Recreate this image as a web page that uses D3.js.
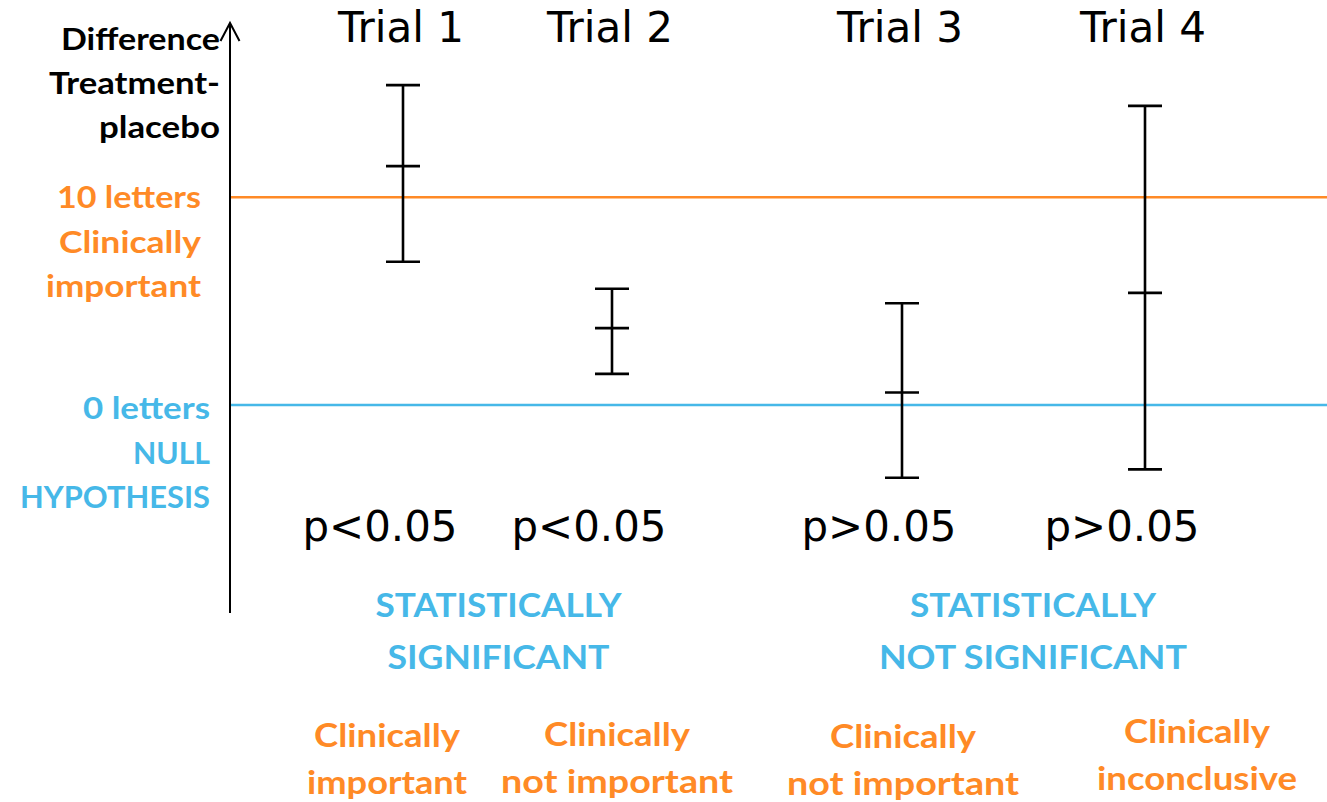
<!DOCTYPE html>
<html>
<head>
<meta charset="utf-8">
<script src="https://cdn.jsdelivr.net/npm/d3@7"></script>
<style>
  html, body { margin: 0; padding: 0; background: #fff; }
  svg { display: block; }
</style>
</head>
<body>
<svg id="chart" width="1327" height="802"></svg>
<script>
// ---- data ----
const trials = ["Trial 1", "Trial 2", "Trial 3", "Trial 4"];
const estimate = [11.5, 3.7, 0.6, 5.4];
const lower = [6.9, 1.5, -3.5, -3.1];
const upper = [15.4, 5.6, 4.9, 14.4];
const pValues = ["p<0.05", "p<0.05", "p>0.05", "p>0.05"];
const clinicalLabels = [
  ["Clinically", "important"],
  ["Clinically", "not important"],
  ["Clinically", "not important"],
  ["Clinically", "inconclusive"]
];
const groupNames = ["significant", "notSignificant"];
const groupLabels = [["STATISTICALLY", "SIGNIFICANT"], ["STATISTICALLY", "NOT SIGNIFICANT"]];
const refValues = [10, 0];
const refLabels = [["10 letters", "Clinically", "important"], ["0 letters", "NULL", "HYPOTHESIS"]];
const axisTitle = ["Difference", "Treatment-", "placebo"];

// ---- style / layout ----
const ORANGE = "#FF8A26";
const BLUE = "#46B8E8";
const BOLD = "Lato, 'Open Sans', sans-serif";
const PLAIN = "'DejaVu Sans', Verdana, sans-serif";

// rendered widths of labels (layout, px)
const labelWidth = {
  "Difference": 159, "Treatment-": 171, "placebo": 121,
  "10 letters": 144, "Clinically": 142, "important": 155,
  "0 letters": 127, "NULL": 77, "HYPOTHESIS": 190,
  "STATISTICALLY": 246, "SIGNIFICANT": 222, "NOT SIGNIFICANT": 308,
  "not important": 232, "inconclusive": 200
};
const bottomClinWidth = { "Clinically": 146, "important": 160 };

const svg = d3.select("#chart");

const y = d3.scaleLinear().domain([0, 10]).range([405, 197.3]);
const x = d3.scaleOrdinal().domain(trials).range([403, 612, 902, 1145]);
const xClin = d3.scaleOrdinal().domain(trials).range([387, 617, 903, 1197]);
const yClin = d3.scaleOrdinal().domain(trials).range([747, 746, 748, 743]);
const xGroup = d3.scaleOrdinal().domain(groupNames).range([498.5, 1033]);
const refColor = d3.scaleOrdinal().domain(refValues).range([ORANGE, BLUE]);

// reference lines
svg.selectAll("line.ref").data(refValues).join("line")
  .attr("class", "ref")
  .attr("x1", 230).attr("x2", 1327)
  .attr("y1", d => y(d)).attr("y2", d => y(d))
  .attr("stroke", d => refColor(d)).attr("stroke-width", 2.6);

// y axis with arrow
const axisX = 230;
svg.append("line").attr("x1", axisX).attr("x2", axisX).attr("y1", 613).attr("y2", 23)
  .attr("stroke", "#000").attr("stroke-width", 2);
svg.append("path")
  .attr("d", `M${axisX - 9.5},${41} L${axisX},${23} L${axisX + 9.5},${41}`)
  .attr("fill", "none").attr("stroke", "#000").attr("stroke-width", 2);

function boldBlock(lines, opts) {
  svg.append("text").attr("font-family", BOLD).attr("font-weight", 700)
    .attr("font-size", opts.size).attr("text-anchor", opts.anchor).attr("fill", opts.color)
    .selectAll("tspan").data(lines).join("tspan")
    .attr("x", opts.x).attr("y", (d, i) => opts.y0 + i * opts.dy)
    .attr("textLength", d => (opts.widths || labelWidth)[d])
    .attr("lengthAdjust", "spacingAndGlyphs")
    .text(d => d);
}

// axis title
boldBlock(axisTitle, { size: 30.5, anchor: "end", color: "#000", x: 220, y0: 50, dy: 44 });

// reference labels
const refLabelRight = [201, 210];
const refLabelOffset = [11, 14];
refValues.forEach((v, k) => {
  boldBlock(refLabels[k], { size: 30.5, anchor: "end", color: refColor(v),
    x: refLabelRight[k], y0: y(v) + refLabelOffset[k], dy: 44.5 });
});

// error bars
const cap = 17;
const bars = svg.selectAll("g.bar").data(trials).join("g").attr("class", "bar");
bars.append("line")
  .attr("x1", d => x(d)).attr("x2", d => x(d))
  .attr("y1", (d, i) => y(upper[i])).attr("y2", (d, i) => y(lower[i]))
  .attr("stroke", "#000").attr("stroke-width", 2.6);
[upper, estimate, lower].forEach(arr => {
  bars.append("line")
    .attr("x1", d => x(d) - cap).attr("x2", d => x(d) + cap)
    .attr("y1", (d, i) => y(arr[i])).attr("y2", (d, i) => y(arr[i]))
    .attr("stroke", "#000").attr("stroke-width", 2.6);
});

// trial titles
svg.selectAll("text.trial").data(trials).join("text")
  .attr("class", "trial")
  .attr("x", d => x(d) - 2).attr("y", 42)
  .attr("text-anchor", "middle").attr("font-family", PLAIN).attr("font-size", 42)
  .attr("textLength", 126).attr("lengthAdjust", "spacingAndGlyphs")
  .attr("fill", "#000").text(d => d);

// p values
svg.selectAll("text.pval").data(trials).join("text")
  .attr("class", "pval")
  .attr("x", d => x(d) - 23).attr("y", 541)
  .attr("text-anchor", "middle").attr("font-family", PLAIN).attr("font-size", 43.5)
  .attr("textLength", 155).attr("lengthAdjust", "spacingAndGlyphs")
  .attr("fill", "#000").text((d, i) => pValues[i]);

// group labels
groupNames.forEach((g, k) => {
  boldBlock(groupLabels[k], { size: 33, anchor: "middle", color: BLUE,
    x: xGroup(g), y0: 617, dy: 52 });
});

// clinical labels
trials.forEach((t, k) => {
  boldBlock(clinicalLabels[k], { size: 32, anchor: "middle", color: ORANGE,
    x: xClin(t), y0: yClin(t), dy: 46.5,
    widths: Object.assign({}, labelWidth, bottomClinWidth) });
});
</script>
</body>
</html>
